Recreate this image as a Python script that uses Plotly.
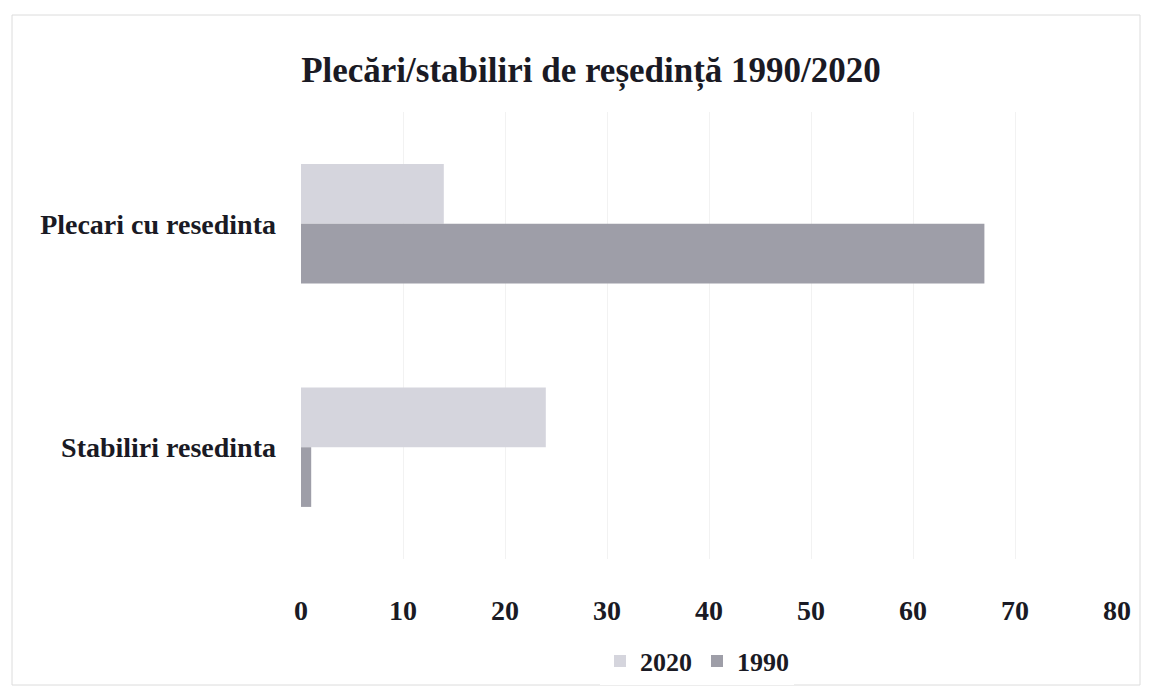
import plotly.graph_objects as go

categories = ["Plecari cu resedinta", "Stabiliri resedinta"]
values_2020 = [14, 24]
values_1990 = [67, 1]
series_names = ["2020", "1990"]
x_ticks = [0, 10, 20, 30, 40, 50, 60, 70, 80]

W, H = 1151, 690
L, R, T, B = 301, 34, 112, 131
pw, ph = W - L - R, H - T - B

def px_x(p):
    return (p - L) / pw

def px_y(p):
    return (H - B - p) / ph

font_family = "Liberation Serif, Times New Roman, serif"
text_color = "#1a1a24"

fig = go.Figure()
fig.add_trace(go.Bar(y=categories, x=values_2020, name="<b>" + series_names[0] + "</b>", orientation="h",
                     marker=dict(color="#d5d5dd", line=dict(width=0))))
fig.add_trace(go.Bar(y=categories, x=values_1990, name="<b>" + series_names[1] + "</b>", orientation="h",
                     marker=dict(color="#9e9ea8", line=dict(width=0))))

fig.update_layout(
    width=W, height=H,
    margin=dict(l=L, r=R, t=T, b=B, autoexpand=False),
    paper_bgcolor="white", plot_bgcolor="white",
    barmode="group", bargap=0.466, bargroupgap=0,
    title=dict(text="<b>Plecări/stabiliri de reședință 1990/2020</b>",
               x=591 / W, xanchor="center", y=1 - 70 / H, yanchor="middle",
               font=dict(family=font_family, size=35, color=text_color)),
    font=dict(family=font_family, color=text_color),
    xaxis=dict(range=[0, 80], tickvals=x_ticks, ticktext=["<b>%d</b>" % v for v in x_ticks],
               showgrid=True, gridcolor="#f2f2f2", gridwidth=1,
               zeroline=False, showline=False, ticks="", ticklabelstandoff=32,
               tickfont=dict(family=font_family, size=28, color=text_color)),
    yaxis=dict(categoryorder="array", categoryarray=categories, autorange="reversed",
               showgrid=False, zeroline=False, showline=False, ticks="", ticklabelstandoff=24,
               tickvals=categories, ticktext=["<b>%s</b>" % c for c in categories],
               tickfont=dict(family=font_family, size=28, color=text_color)),
    legend=dict(orientation="h", x=px_x(697), xanchor="center",
                y=px_y(661), yanchor="middle",
                font=dict(family=font_family, size=26, color=text_color),
                itemwidth=30, traceorder="normal"),
    showlegend=True,
)

fig.add_shape(type="rect", xref="paper", yref="paper",
              x0=px_x(12), x1=px_x(1140), y0=px_y(685), y1=px_y(15),
              line=dict(color="#dcdcdc", width=1), fillcolor="rgba(0,0,0,0)", layer="below")

fig.write_html("out.html", config={"displayModeBar": False},
               post_script="document.body.style.margin='0px';document.body.style.overflow='hidden';")
